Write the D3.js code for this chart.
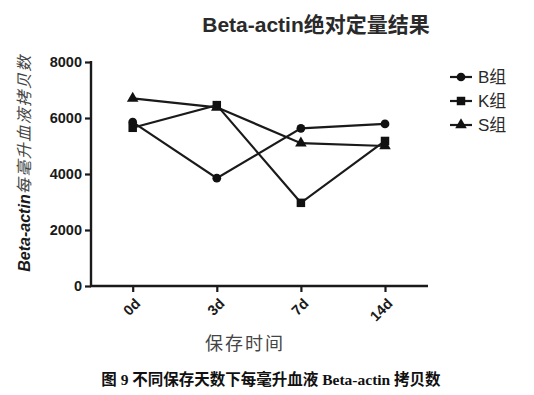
<!DOCTYPE html>
<html>
<head>
<meta charset="utf-8">
<script src="https://cdn.jsdelivr.net/npm/d3@7"></script>
<style>
  body { margin: 0; background: #fff; }
</style>
</head>
<body>
<svg id="chart" width="534" height="395"></svg>
<script>
// data
const days = ['0d', '3d', '7d', '14d'];
const groupNames = ['B组', 'K组', 'S组'];
const bValues = [5850, 3850, 5630, 5790];
const kValues = [5650, 6460, 2970, 5180];
const sValues = [6700, 6380, 5100, 5000];
const yTicks = [0, 2000, 4000, 6000, 8000];

const series = [
  { name: groupNames[0], values: bValues, symbol: d3.symbolCircle, size: 60 },
  { name: groupNames[1], values: kValues, symbol: d3.symbolSquare, size: 72 },
  { name: groupNames[2], values: sValues, symbol: d3.symbolTriangle, size: 58 }
];

const svg = d3.select('#chart');
const plotLeft = 91, plotRight = 428, plotTop = 62, plotBottom = 286;
const ink = '#1a1a1a';
const sans = 'Arial, "Liberation Sans", "Noto Sans CJK SC", sans-serif';

const x = d3.scalePoint().domain(days).range([132.7, 385]);
const y = d3.scaleLinear().domain([0, 8000]).range([plotBottom, plotTop]);

// title
svg.append('text')
  .attr('x', 316).attr('y', 32)
  .attr('text-anchor', 'middle')
  .attr('fill', '#2a2a2a')
  .style('font-family', sans)
  .style('font-weight', 'bold')
  .style('font-size', '21px')
  .text('Beta-actin绝对定量结果');

// y axis
const yAxis = svg.append('g')
  .attr('transform', 'translate(' + plotLeft + ',0)')
  .call(d3.axisLeft(y).tickValues(yTicks).tickFormat(d3.format('d'))
    .tickSize(6).tickPadding(3).tickSizeOuter(0));

// x axis
const xAxis = svg.append('g')
  .attr('transform', 'translate(0,' + plotBottom + ')')
  .call(d3.axisBottom(x).tickSize(6).tickSizeOuter(0).tickFormat(''));

[yAxis, xAxis].forEach(g => {
  g.select('.domain').attr('stroke', ink).attr('stroke-width', 2.4);
  g.selectAll('.tick line').attr('stroke', ink).attr('stroke-width', 2.2);
});
xAxis.select('.domain').attr('d', 'M' + (plotLeft - 1) + ',0H' + plotRight);
yAxis.select('.domain').attr('d', 'M0,' + (plotTop - 1) + 'V' + (plotBottom + 1));

yAxis.selectAll('.tick text')
  .attr('fill', ink)
  .style('font-family', sans)
  .style('font-weight', 'bold')
  .style('font-size', '14.5px');

// rotated day labels
svg.append('g')
  .selectAll('text')
  .data(days)
  .join('text')
  .attr('transform', d => 'translate(' + (x(d) + 5) + ',' + (plotBottom + 15) + ') rotate(-45)')
  .attr('text-anchor', 'end')
  .attr('dy', '0.35em')
  .attr('fill', ink)
  .style('font-family', sans)
  .style('font-weight', 'bold')
  .style('font-size', '14.5px')
  .text(d => d);

// axis titles
const yTitle = svg.append('text')
  .attr('transform', 'translate(30,163) rotate(-90)')
  .attr('text-anchor', 'middle')
  .style('font-family', sans)
  .style('font-style', 'italic')
  .style('font-size', '16px');
yTitle.append('tspan').attr('fill', ink).style('font-weight', 'bold').text('Beta-actin');
yTitle.append('tspan').attr('fill', '#444').attr('letter-spacing', '1.5px').text('每毫升血液拷贝数');

svg.append('text')
  .attr('x', 245).attr('y', 350)
  .attr('text-anchor', 'middle')
  .attr('fill', '#444')
  .attr('letter-spacing', '2px')
  .style('font-family', '"Noto Sans CJK SC", sans-serif')
  .style('font-size', '18px')
  .text('保存时间');

// lines and markers
const line = d3.line().x((d, i) => x(days[i])).y(d => y(d));

series.forEach(s => {
  svg.append('path')
    .datum(s.values)
    .attr('d', line)
    .attr('fill', 'none')
    .attr('stroke', ink)
    .attr('stroke-width', 2.2);

  svg.append('g')
    .selectAll('path')
    .data(s.values)
    .join('path')
    .attr('transform', (d, i) => 'translate(' + x(days[i]) + ',' + y(d) + ')')
    .attr('d', d3.symbol().type(s.symbol).size(s.size))
    .attr('fill', '#111');
});

// legend
const legend = svg.append('g')
  .selectAll('g')
  .data(series)
  .join('g')
  .attr('transform', (d, i) => 'translate(450,' + (77 + i * 24) + ')');

legend.append('line')
  .attr('x1', 0).attr('x2', 22)
  .attr('stroke', ink).attr('stroke-width', 2.2);

legend.append('path')
  .attr('transform', 'translate(11,0)')
  .attr('d', d => d3.symbol().type(d.symbol).size(d.size)())
  .attr('fill', '#111');

legend.append('text')
  .attr('x', 28).attr('dy', '0.36em')
  .attr('fill', '#2a2a2a')
  .style('font-family', sans)
  .style('font-size', '17px')
  .text(d => d.name);

// caption
svg.append('text')
  .attr('x', 271).attr('y', 385)
  .attr('text-anchor', 'middle')
  .attr('fill', '#111')
  .style('font-family', '"Liberation Serif", "Noto Sans CJK SC", serif')
  .style('font-weight', 'bold')
  .style('font-size', '15.5px')
  .text('图 9  不同保存天数下每毫升血液 Beta-actin 拷贝数');
</script>
</body>
</html>
